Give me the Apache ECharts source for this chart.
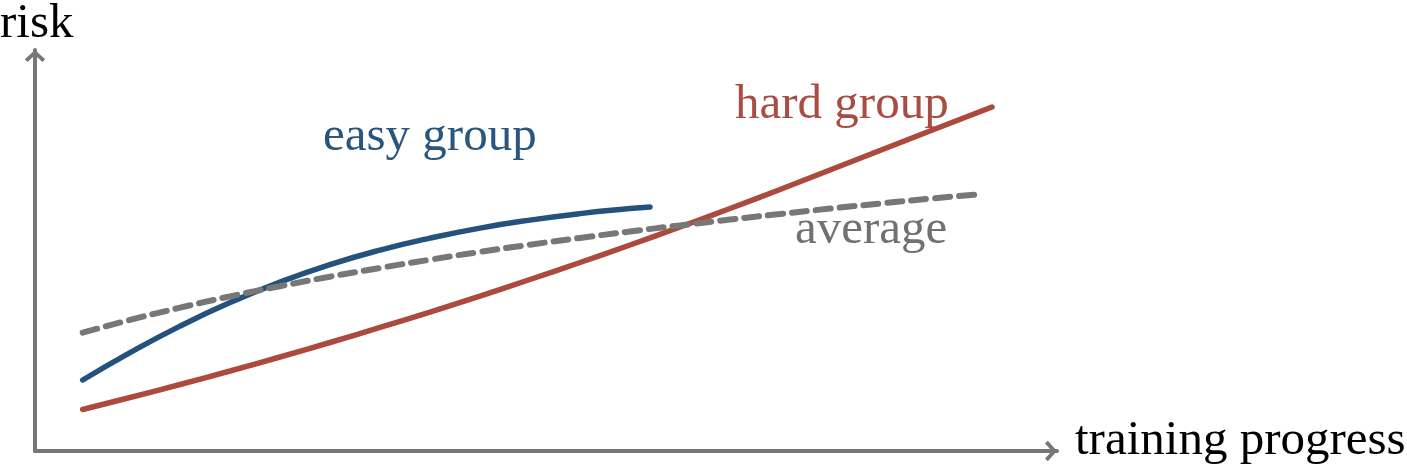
<!DOCTYPE html>
<html>
<head>
<meta charset="utf-8">
<title>risk vs training progress</title>
<script src="https://cdn.jsdelivr.net/npm/echarts@6/dist/echarts.min.js"></script>
<style>
  html, body { margin: 0; padding: 0; background: #fff; }
  #chart { width: 1407px; height: 471px; }
</style>
</head>
<body>
<div id="chart"></div>
<script>
// values, x = training progress (0-100), y = risk (0-100)
const easyX = [4.67, 9.30, 14.19, 19.08, 23.97, 28.86, 33.76, 38.65, 43.54, 48.43, 53.33, 58.22, 60.18];
const easyY = [17.71, 24.54, 31.15, 37.01, 42.12, 46.48, 50.10, 53.09, 55.59, 57.58, 59.20, 60.45, 60.85];

const hardX = [4.67, 9.30, 14.19, 19.08, 23.97, 28.86, 33.76, 38.65, 43.54, 48.43, 53.33, 58.22,
  63.11, 68.00, 72.90, 77.79, 82.68, 87.57, 93.64];
const hardY = [10.35, 13.34, 16.58, 19.95, 23.44, 27.06, 30.80, 34.66, 38.65, 42.77, 47.01, 51.37,
  55.86, 60.47, 65.21, 70.07, 74.94, 79.80, 85.79];

const avgX = [4.67, 9.30, 14.19, 19.08, 23.97, 28.86, 33.76, 38.65, 43.54, 48.43, 53.33, 58.22,
  63.11, 68.00, 72.90, 77.79, 82.68, 87.57, 92.66];
const avgY = [29.50, 32.69, 35.74, 38.55, 41.10, 43.47, 45.66, 47.71, 49.65, 51.45, 53.14, 54.74,
  56.26, 57.71, 59.10, 60.45, 61.72, 62.92, 64.09];

const pairs = (xs, ys) => xs.map((x, i) => [x, ys[i]]);

const axisGray = '#777777';
const serif = '"Liberation Serif", "Times New Roman", serif';
// open arrow head, pointing up (echarts turns it along the axis)
const arrowHead = 'path://M10 0 L20 9 L17.3 11.8 L10 5 L2.7 11.8 L0 9 Z';

function makeAxis() {
  return {
    type: 'value',
    min: 0,
    max: 100,
    splitLine: { show: false },
    axisTick: { show: false },
    axisLabel: { show: false },
    axisLine: {
      show: true,
      symbol: ['none', arrowHead],
      symbolSize: [21, 12],
      symbolOffset: [0, -6],
      lineStyle: { color: axisGray, width: 4 }
    }
  };
}

let chart = echarts.init(document.getElementById('chart'), null, { renderer: 'canvas' });

chart.setOption({
  animation: false,
  grid: { left: 35, right: 350, top: 50, bottom: 20 },
  xAxis: makeAxis(),
  yAxis: makeAxis(),
  graphic: [
    { type: 'text', left: 0, top: 0, style: { text: 'risk', font: '49px ' + serif, fill: '#000' } },
    { type: 'text', x: 1075, y: 441, style: { text: 'training progress', font: '49px ' + serif, fill: '#000', textVerticalAlign: 'middle' } },
    { type: 'text', x: 323, y: 137, style: { text: 'easy group', font: '49px ' + serif, fill: '#29567f', textVerticalAlign: 'middle' } },
    { type: 'text', x: 735, y: 105, style: { text: 'hard group', font: '49px ' + serif, fill: '#a94c41', textVerticalAlign: 'middle' } },
    { type: 'text', x: 795, y: 230, style: { text: 'average', font: '49px ' + serif, fill: '#717171', textVerticalAlign: 'middle' } }
  ],
  series: [
    {
      name: 'hard group',
      type: 'line',
      data: pairs(hardX, hardY),
      smooth: 0.5,
      showSymbol: false,
      lineStyle: { color: '#ab4a3d', width: 5.5, cap: 'round' },
      z: 2
    },
    {
      name: 'easy group',
      type: 'line',
      data: pairs(easyX, easyY),
      smooth: 0.5,
      showSymbol: false,
      lineStyle: { color: '#25527c', width: 5.5, cap: 'round' },
      z: 3
    },
    {
      name: 'average',
      type: 'line',
      data: pairs(avgX, avgY),
      smooth: 0.5,
      showSymbol: false,
      lineStyle: { color: '#777777', width: 6, type: [15, 9], cap: 'round' },
      z: 4
    }
  ]
});
</script>
</body>
</html>
